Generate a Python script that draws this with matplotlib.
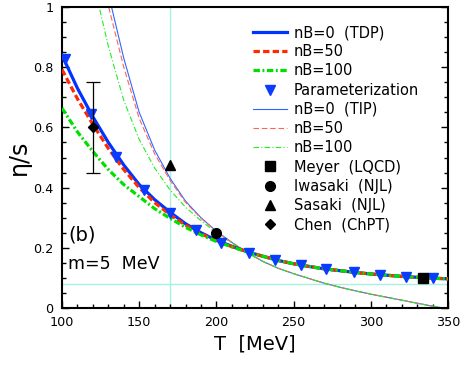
import matplotlib
matplotlib.use("Agg")
import matplotlib.pyplot as plt
from matplotlib.ticker import MultipleLocator, FuncFormatter

# ---------------- data ----------------
T_tdp = [100, 110, 120, 130, 140, 150, 160, 170, 180, 190, 200, 210, 220, 230, 240,
         250, 260, 270, 280, 290, 300, 310, 320, 330, 340, 350]
eta_tdp_0 = [0.840, 0.730, 0.635, 0.550, 0.475, 0.410, 0.360, 0.318, 0.280, 0.250, 0.225,
             0.205, 0.187, 0.172, 0.158, 0.147, 0.138, 0.130, 0.124, 0.118, 0.113, 0.109,
             0.105, 0.102, 0.099, 0.097]
eta_tdp_50 = [0.792, 0.695, 0.610, 0.530, 0.460, 0.400, 0.350, 0.310, 0.275, 0.247, 0.223,
              0.204, 0.187, 0.172, 0.158, 0.147, 0.138, 0.130, 0.124, 0.118, 0.113, 0.109,
              0.105, 0.102, 0.099, 0.097]
eta_tdp_100 = [0.664, 0.585, 0.520, 0.460, 0.410, 0.370, 0.330, 0.298, 0.268, 0.243, 0.221,
               0.203, 0.186, 0.172, 0.158, 0.147, 0.138, 0.130, 0.124, 0.118, 0.113, 0.109,
               0.105, 0.102, 0.099, 0.097]

T_param = [102, 119, 135, 153, 170, 187, 203, 221, 238, 255, 271, 289, 306, 323, 340]
eta_param = [0.827, 0.644, 0.503, 0.392, 0.315, 0.259, 0.215, 0.184, 0.159, 0.143,
             0.130, 0.119, 0.111, 0.103, 0.101]

T_tip = [120, 130, 140, 150, 160, 170, 180, 190, 200, 210, 220, 230, 240, 250, 260,
         270, 280, 290, 300, 310, 320, 330, 340, 350]
eta_tip_0 = [1.30, 1.045, 0.830, 0.650, 0.525, 0.431, 0.355, 0.300, 0.255, 0.218, 0.184,
             0.155, 0.132, 0.114, 0.098, 0.082, 0.069, 0.057, 0.046, 0.036, 0.026, 0.016,
             0.006, -0.003]
eta_tip_50 = [1.25, 1.005, 0.800, 0.630, 0.512, 0.424, 0.351, 0.298, 0.254, 0.218, 0.184,
              0.155, 0.132, 0.114, 0.098, 0.082, 0.069, 0.057, 0.046, 0.036, 0.026, 0.016,
              0.006, -0.003]
eta_tip_100 = [1.09, 0.870, 0.690, 0.560, 0.465, 0.392, 0.335, 0.290, 0.250, 0.216, 0.183,
               0.155, 0.132, 0.114, 0.098, 0.082, 0.069, 0.057, 0.046, 0.036, 0.026, 0.016,
               0.006, -0.003]

meyer_T, meyer_eta = [334], [0.100]
iwasaki_T, iwasaki_eta = [200], [0.248]
sasaki_T, sasaki_eta = [170], [0.475]
chen_T, chen_eta = [120], [0.600]
chen_err_lo, chen_err_hi = [0.150], [0.150]

Tc = 170
kss_bound = 0.0796

labels_tdp = ["nB=0  (TDP)", "nB=50", "nB=100"]
label_param = "Parameterization"
labels_tip = ["nB=0  (TIP)", "nB=50", "nB=100"]
labels_data = ["Meyer  (LQCD)", "Iwasaki  (NJL)", "Sasaki  (NJL)", "Chen  (ChPT)"]

# ---------------- figure ----------------
fig = plt.figure(figsize=(4.63, 3.71), dpi=100)
ax = fig.add_axes([62/463, 1-308/371, (448-62)/463, (308-7)/371])

cyan = "#a8f0e4"
ax.axvline(Tc, color=cyan, lw=1.0, zorder=1)
ax.axhline(kss_bound, color=cyan, lw=1.0, zorder=1)

blue, red, green = "#0033ff", "#ff2a00", "#00e000"
h1, = ax.plot(T_tdp, eta_tdp_0, color=blue, lw=2.3, ls="-", zorder=3)
h2, = ax.plot(T_tdp, eta_tdp_50, color=red, lw=2.3, ls=(0, (2.0, 1.0)), zorder=3)
h3, = ax.plot(T_tdp, eta_tdp_100, color=green, lw=2.3, ls=(0, (2.0, 0.8, 0.6, 0.8)), zorder=3)
h4, = ax.plot(T_param, eta_param, ls="none", marker="v", ms=7.5, color="#0a3cff",
              mec="#0a3cff", zorder=5)
h5, = ax.plot(T_tip, eta_tip_0, color="#3366ff", lw=0.8, ls="-", zorder=2)
h6, = ax.plot(T_tip, eta_tip_50, color="#ff6655", lw=0.8, ls=(0, (5, 2.5)), zorder=2)
h7, = ax.plot(T_tip, eta_tip_100, color="#22ee22", lw=0.8, ls=(0, (5, 2, 1, 2)), zorder=2)
h8, = ax.plot(meyer_T, meyer_eta, ls="none", marker="s", ms=6.5, color="black", zorder=6)
h9, = ax.plot(iwasaki_T, iwasaki_eta, ls="none", marker="o", ms=7, color="black", zorder=6)
h10, = ax.plot(sasaki_T, sasaki_eta, ls="none", marker="^", ms=7, color="black", zorder=6)
ax.errorbar(chen_T, chen_eta, yerr=[chen_err_lo, chen_err_hi], fmt="none",
            ecolor="black", elinewidth=0.9, capsize=5, capthick=0.9, zorder=6)
h11, = ax.plot(chen_T, chen_eta, ls="none", marker="D", ms=5.5, color="black", zorder=7)

ax.set_xlim(100, 350)
ax.set_ylim(0, 1)
ax.xaxis.set_major_locator(MultipleLocator(50))
ax.xaxis.set_minor_locator(MultipleLocator(10))
ax.yaxis.set_major_locator(MultipleLocator(0.2))
ax.yaxis.set_minor_locator(MultipleLocator(0.05))
ax.yaxis.set_major_formatter(FuncFormatter(
    lambda v, p: "0" if abs(v) < 1e-9 else ("1" if abs(v - 1) < 1e-9 else f"{v:.1f}")))
ax.tick_params(which="both", direction="in", top=False, right=True, labelsize=9.2, width=1.0)
ax.tick_params(which="major", length=5)
ax.tick_params(which="minor", length=3)
ax.tick_params(axis="x", which="major", pad=6)
ax.tick_params(axis="y", which="major", pad=6)
for s in ax.spines.values():
    s.set_linewidth(1.5)

ax.set_xlabel("T  [MeV]", fontsize=14, labelpad=4)
ax.set_ylabel("η/s", fontsize=17, labelpad=2)

ax.text(104, 0.225, "(b)", fontsize=14)
ax.text(104, 0.13, "m=5  MeV", fontsize=12.5)

leg = ax.legend([h1, h2, h3, h4, h5, h6, h7, h8, h9, h10, h11],
                labels_tdp + [label_param] + labels_tip + labels_data,
                loc="upper left", bbox_to_anchor=(253/463, 1-25/371),
                bbox_transform=fig.transFigure, frameon=False, fontsize=10.5,
                handlelength=2.3, handletextpad=0.5, labelspacing=0.29,
                borderpad=0, borderaxespad=0, numpoints=1)

fig.savefig("out.png", dpi=100)
